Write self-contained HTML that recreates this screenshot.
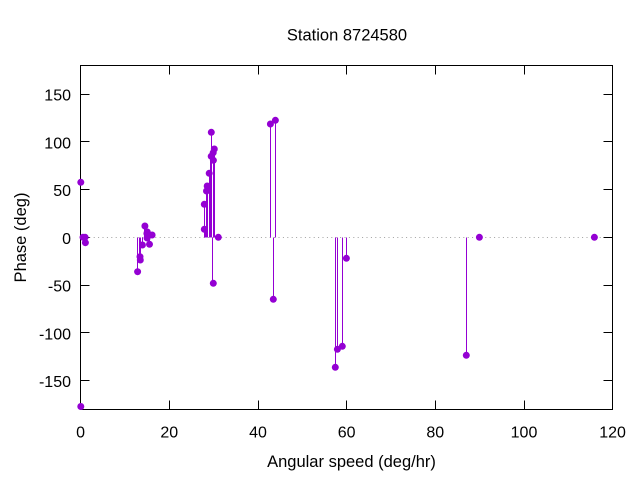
<!DOCTYPE html>
<html><head><meta charset="utf-8"><style>
html,body{margin:0;padding:0;background:#fff;}
svg{display:block;}
text{font-family:"Liberation Sans",sans-serif;font-size:16px;fill:#000;}
</style></head><body>
<svg width="640" height="480" viewBox="0 0 640 480" xmlns="http://www.w3.org/2000/svg">
<rect width="640" height="480" fill="#fff"/>
<!-- zero line -->
<line x1="80.5" y1="237.5" x2="612.5" y2="237.5" stroke="#a0a0a0" stroke-width="1" stroke-dasharray="1 3.4"/>
<!-- ticks -->
<g stroke="#000" stroke-width="1">
<line x1="80.5" y1="94.5" x2="89.5" y2="94.5"/><line x1="612.5" y1="94.5" x2="603.5" y2="94.5"/>
<line x1="80.5" y1="141.5" x2="89.5" y2="141.5"/><line x1="612.5" y1="141.5" x2="603.5" y2="141.5"/>
<line x1="80.5" y1="189.5" x2="89.5" y2="189.5"/><line x1="612.5" y1="189.5" x2="603.5" y2="189.5"/>
<line x1="80.5" y1="237.5" x2="89.5" y2="237.5"/><line x1="612.5" y1="237.5" x2="603.5" y2="237.5"/>
<line x1="80.5" y1="285.5" x2="89.5" y2="285.5"/><line x1="612.5" y1="285.5" x2="603.5" y2="285.5"/>
<line x1="80.5" y1="332.5" x2="89.5" y2="332.5"/><line x1="612.5" y1="332.5" x2="603.5" y2="332.5"/>
<line x1="80.5" y1="380.5" x2="89.5" y2="380.5"/><line x1="612.5" y1="380.5" x2="603.5" y2="380.5"/>
<line x1="169.5" y1="409.5" x2="169.5" y2="400.5"/><line x1="169.5" y1="65.5" x2="169.5" y2="74.5"/>
<line x1="258.5" y1="409.5" x2="258.5" y2="400.5"/><line x1="258.5" y1="65.5" x2="258.5" y2="74.5"/>
<line x1="346.5" y1="409.5" x2="346.5" y2="400.5"/><line x1="346.5" y1="65.5" x2="346.5" y2="74.5"/>
<line x1="435.5" y1="409.5" x2="435.5" y2="400.5"/><line x1="435.5" y1="65.5" x2="435.5" y2="74.5"/>
<line x1="524.5" y1="409.5" x2="524.5" y2="400.5"/><line x1="524.5" y1="65.5" x2="524.5" y2="74.5"/>
</g>
<!-- y tick labels -->
<g text-anchor="end">
<text x="71" y="100.7">150</text>
<text x="71" y="148.4">100</text>
<text x="71" y="196">50</text>
<text x="71" y="243.8">0</text>
<text x="71" y="291.6">-50</text>
<text x="71" y="339.3">-100</text>
<text x="71" y="386.9">-150</text>
</g>
<!-- x tick labels -->
<g text-anchor="middle">
<text x="80.6" y="437.5">0</text>
<text x="169.3" y="437.5">20</text>
<text x="258" y="437.5">40</text>
<text x="346.6" y="437.5">60</text>
<text x="435.3" y="437.5">80</text>
<text x="524" y="437.5">100</text>
<text x="612.6" y="437.5">120</text>
</g>
<text x="347" y="40.5" text-anchor="middle" style="font-size:16.5px">Station 8724580</text>
<text x="351.5" y="467" text-anchor="middle" style="font-size:16.5px">Angular speed (deg/hr)</text>
<text transform="translate(26,237.5) rotate(-90)" text-anchor="middle" style="font-size:16.5px">Phase (deg)</text>
<!-- stems -->
<g stroke="#9400d3" stroke-width="1">
<line x1="80.5" y1="237.5" x2="80.5" y2="182.3"/>
<line x1="80.5" y1="237.5" x2="80.5" y2="406.5"/>
<line x1="85.5" y1="237.5" x2="85.5" y2="242.7"/>
<line x1="137.5" y1="237.5" x2="137.5" y2="271.7"/>
<line x1="139.5" y1="237.5" x2="139.5" y2="256.7"/>
<line x1="140.5" y1="237.5" x2="140.5" y2="260"/>
<line x1="142.5" y1="237.5" x2="142.5" y2="245"/>
<line x1="144.5" y1="237.5" x2="144.5" y2="226"/>
<line x1="146.5" y1="237.5" x2="146.5" y2="233.5"/>
<line x1="147.5" y1="237.5" x2="147.5" y2="232"/>
<line x1="149.5" y1="237.5" x2="149.5" y2="244.3"/>
<line x1="152.5" y1="237.5" x2="152.5" y2="235"/>
<line x1="204.5" y1="237.5" x2="204.5" y2="204.3"/>
<line x1="205.5" y1="237.5" x2="205.5" y2="229.3"/>
<line x1="206.5" y1="237.5" x2="206.5" y2="191"/>
<line x1="207.5" y1="237.5" x2="207.5" y2="186"/>
<line x1="209.5" y1="237.5" x2="209.5" y2="173.3"/>
<line x1="211.5" y1="237.5" x2="211.5" y2="132.3"/>
<line x1="210.5" y1="237.5" x2="210.5" y2="156.3"/>
<line x1="212.5" y1="237.5" x2="212.5" y2="283.3"/>
<line x1="213.5" y1="237.5" x2="213.5" y2="160.3"/>
<line x1="214.5" y1="237.5" x2="214.5" y2="152.7"/>
<line x1="214.5" y1="237.5" x2="214.5" y2="149"/>
<line x1="270.5" y1="237.5" x2="270.5" y2="124"/>
<line x1="273.5" y1="237.5" x2="273.5" y2="299.3"/>
<line x1="275.5" y1="237.5" x2="275.5" y2="120.3"/>
<line x1="335.5" y1="237.5" x2="335.5" y2="367.3"/>
<line x1="337.5" y1="237.5" x2="337.5" y2="349.3"/>
<line x1="342.5" y1="237.5" x2="342.5" y2="346.3"/>
<line x1="346.5" y1="237.5" x2="346.5" y2="258.3"/>
<line x1="466.5" y1="237.5" x2="466.5" y2="355.3"/>
</g>
<!-- border -->
<rect x="80.5" y="65.5" width="532" height="344" fill="none" stroke="#000" stroke-width="1"/>
<!-- points -->
<g fill="#9400d3">
<circle cx="80.8" cy="182.3" r="3.5"/>
<circle cx="80.8" cy="406.5" r="3.5"/>
<circle cx="83.0" cy="237.3" r="3.5"/>
<circle cx="85.1" cy="237.3" r="3.5"/>
<circle cx="85.4" cy="242.7" r="3.5"/>
<circle cx="137.6" cy="271.7" r="3.5"/>
<circle cx="140.0" cy="256.7" r="3.5"/>
<circle cx="140.3" cy="260" r="3.5"/>
<circle cx="142.4" cy="245" r="3.5"/>
<circle cx="144.9" cy="226" r="3.5"/>
<circle cx="146.9" cy="233.5" r="3.5"/>
<circle cx="147.1" cy="238" r="3.5"/>
<circle cx="147.3" cy="232" r="3.5"/>
<circle cx="149.5" cy="244.3" r="3.5"/>
<circle cx="152.1" cy="235" r="3.5"/>
<circle cx="204.3" cy="204.3" r="3.5"/>
<circle cx="204.3" cy="229.3" r="3.5"/>
<circle cx="206.5" cy="191" r="3.5"/>
<circle cx="207.2" cy="186" r="3.5"/>
<circle cx="209.2" cy="173.3" r="3.5"/>
<circle cx="211.3" cy="132.3" r="3.5"/>
<circle cx="211.2" cy="156.3" r="3.5"/>
<circle cx="213.3" cy="283.3" r="3.5"/>
<circle cx="213.4" cy="160.3" r="3.5"/>
<circle cx="213.2" cy="152.7" r="3.5"/>
<circle cx="214.3" cy="149" r="3.5"/>
<circle cx="218.3" cy="237.3" r="3.5"/>
<circle cx="270.4" cy="124" r="3.5"/>
<circle cx="273.3" cy="299.3" r="3.5"/>
<circle cx="275.4" cy="120.3" r="3.5"/>
<circle cx="335.3" cy="367.3" r="3.5"/>
<circle cx="337.4" cy="349.3" r="3.5"/>
<circle cx="342.3" cy="346.3" r="3.5"/>
<circle cx="346.4" cy="258.3" r="3.5"/>
<circle cx="466.3" cy="355.3" r="3.5"/>
<circle cx="479.4" cy="237.3" r="3.5"/>
<circle cx="594.4" cy="237.3" r="3.5"/>
</g>
</svg>
</body></html>
